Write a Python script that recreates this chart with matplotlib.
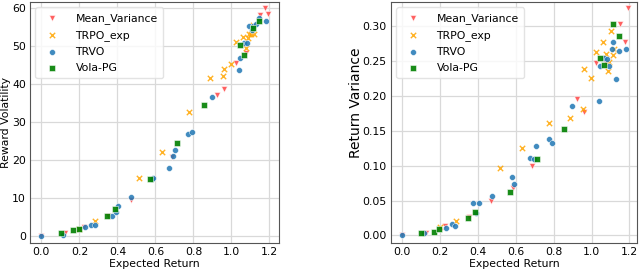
import matplotlib
matplotlib.use("Agg")
import matplotlib.pyplot as plt

# ---------------- data ----------------
mv_x = [0.0, 0.124, 0.226, 0.352, 0.471, 0.585, 0.685, 0.923, 0.960, 1.025, 1.075, 1.148, 1.175, 1.192]
mv_var = [0.0, 0.004, 0.013, 0.027, 0.049, 0.068, 0.099, 0.196, 0.177, 0.248, 0.248, 0.304, 0.278, 0.327]
mv_vol = [0.0, 0.7, 2.3, 5.2, 9.4, 15.1, 20.9, 37.1, 38.6, 45.5, 48.1, 58.1, 59.9, 58.3]

trpo_x = [0.199, 0.282, 0.516, 0.634, 0.776, 0.887, 0.953, 0.959, 0.997, 1.022, 1.062, 1.075, 1.088, 1.094, 1.105, 1.113, 1.121]
trpo_var = [0.012, 0.021, 0.096, 0.125, 0.161, 0.168, 0.182, 0.239, 0.226, 0.263, 0.278, 0.260, 0.236, 0.249, 0.293, 0.259, 0.267]
trpo_vol = [2.0, 3.9, 15.3, 22.0, 32.6, 41.6, 42.0, 43.8, 45.1, 51.0, 52.2, 49.4, 52.0, 53.1, 53.2, 55.4, 53.1]

trvo_x = [0.0, 0.113, 0.230, 0.263, 0.280, 0.373, 0.391, 0.404, 0.472, 0.582, 0.589, 0.673, 0.694, 0.705,
          0.773, 0.792, 0.895, 1.039, 1.043, 1.064, 1.080, 1.094, 1.109, 1.115, 1.131, 1.147, 1.184]
trvo_var = [0.0, 0.004, 0.011, 0.016, 0.014, 0.046, 0.032, 0.046, 0.057, 0.084, 0.074, 0.111, 0.110, 0.128,
            0.138, 0.132, 0.185, 0.193, 0.243, 0.254, 0.253, 0.243, 0.267, 0.278, 0.225, 0.265, 0.267]
trvo_vol = [0.0, 0.4, 2.3, 2.9, 2.9, 5.4, 6.3, 7.8, 10.4, 15.0, 15.2, 17.9, 21.1, 22.6,
            26.8, 27.4, 36.6, 43.6, 46.8, 50.6, 50.7, 55.1, 54.2, 55.3, 55.7, 57.4, 56.6]

vola_x = [0.101, 0.165, 0.196, 0.345, 0.385, 0.570, 0.712, 0.855, 1.047, 1.064, 1.115, 1.146]
vola_var = [0.003, 0.005, 0.009, 0.025, 0.033, 0.062, 0.110, 0.153, 0.254, 0.245, 0.304, 0.286]
vola_vol = [0.9, 1.7, 1.9, 5.4, 7.0, 15.0, 24.4, 34.4, 50.3, 47.5, 54.7, 56.6]

labels = ["Mean_Variance", "TRPO_exp", "TRVO", "Vola-PG"]
xlabel = "Expected Return"
ylabels = ["Reward Volatility", "Return Variance"]

# ---------------- style ----------------
plt.rcParams['font.family'] = ['DejaVu Sans']
FS = 7.8
fig = plt.figure(figsize=(6.4, 2.71), dpi=100)
ax1 = fig.add_axes([30 / 640, 28 / 271, 249 / 640, 241 / 271])
ax2 = fig.add_axes([391 / 640, 28 / 271, 246 / 640, 241 / 271])

styles = [
    dict(marker='v', color='#ff4545', s=18, alpha=0.85, edgecolors='white', linewidths=0.4),
    dict(marker='x', color='#ffa500', s=15, alpha=0.85, linewidths=1.0),
    dict(marker='o', color='#1f77b4', s=18, alpha=0.85, edgecolors='white', linewidths=0.4),
    dict(marker='s', color='#008000', s=18, alpha=0.9, edgecolors='white', linewidths=0.4),
]

series_vol = [(mv_x, mv_vol), (trpo_x, trpo_vol), (trvo_x, trvo_vol), (vola_x, vola_vol)]
series_var = [(mv_x, mv_var), (trpo_x, trpo_var), (trvo_x, trvo_var), (vola_x, vola_var)]

for ax, series, yl, yfs in [(ax1, series_vol, ylabels[0], FS), (ax2, series_var, ylabels[1], 10.0)]:
    ax.set_axisbelow(True)
    ax.grid(True, color='#d9d9d9', linewidth=0.9)
    for (xs, ys), st, lab in zip(series, styles, labels):
        ax.scatter(xs, ys, label=lab, **st)
    ax.set_xlabel(xlabel, fontsize=FS, labelpad=1)
    ax.set_ylabel(yl, fontsize=yfs, labelpad=1)
    ax.tick_params(axis='both', labelsize=FS, length=0, pad=3)
    for sp in ax.spines.values():
        sp.set_color('#555555')
        sp.set_linewidth(0.8)
    ax.set_xticks([0.0, 0.2, 0.4, 0.6, 0.8, 1.0, 1.2])
    leg = ax.legend(loc='upper left', fontsize=FS, frameon=True, handletextpad=1.2,
                    borderpad=0.5, labelspacing=0.55, markerscale=1.0)
    leg.get_frame().set_edgecolor('#dddddd')

ax2.yaxis.set_label_coords(-0.115, 0.58)

ax1.set_xlim(-0.06, 1.25)
ax1.set_ylim(-1.8, 61.5)
ax1.set_yticks([0, 10, 20, 30, 40, 50, 60])
ax2.set_xlim(-0.06, 1.24)
ax2.set_ylim(-0.011, 0.335)
ax2.set_yticks([0.0, 0.05, 0.10, 0.15, 0.20, 0.25, 0.30])
ax2.set_yticklabels(["0.00", "0.05", "0.10", "0.15", "0.20", "0.25", "0.30"])

fig.savefig("out.png", dpi=100)
